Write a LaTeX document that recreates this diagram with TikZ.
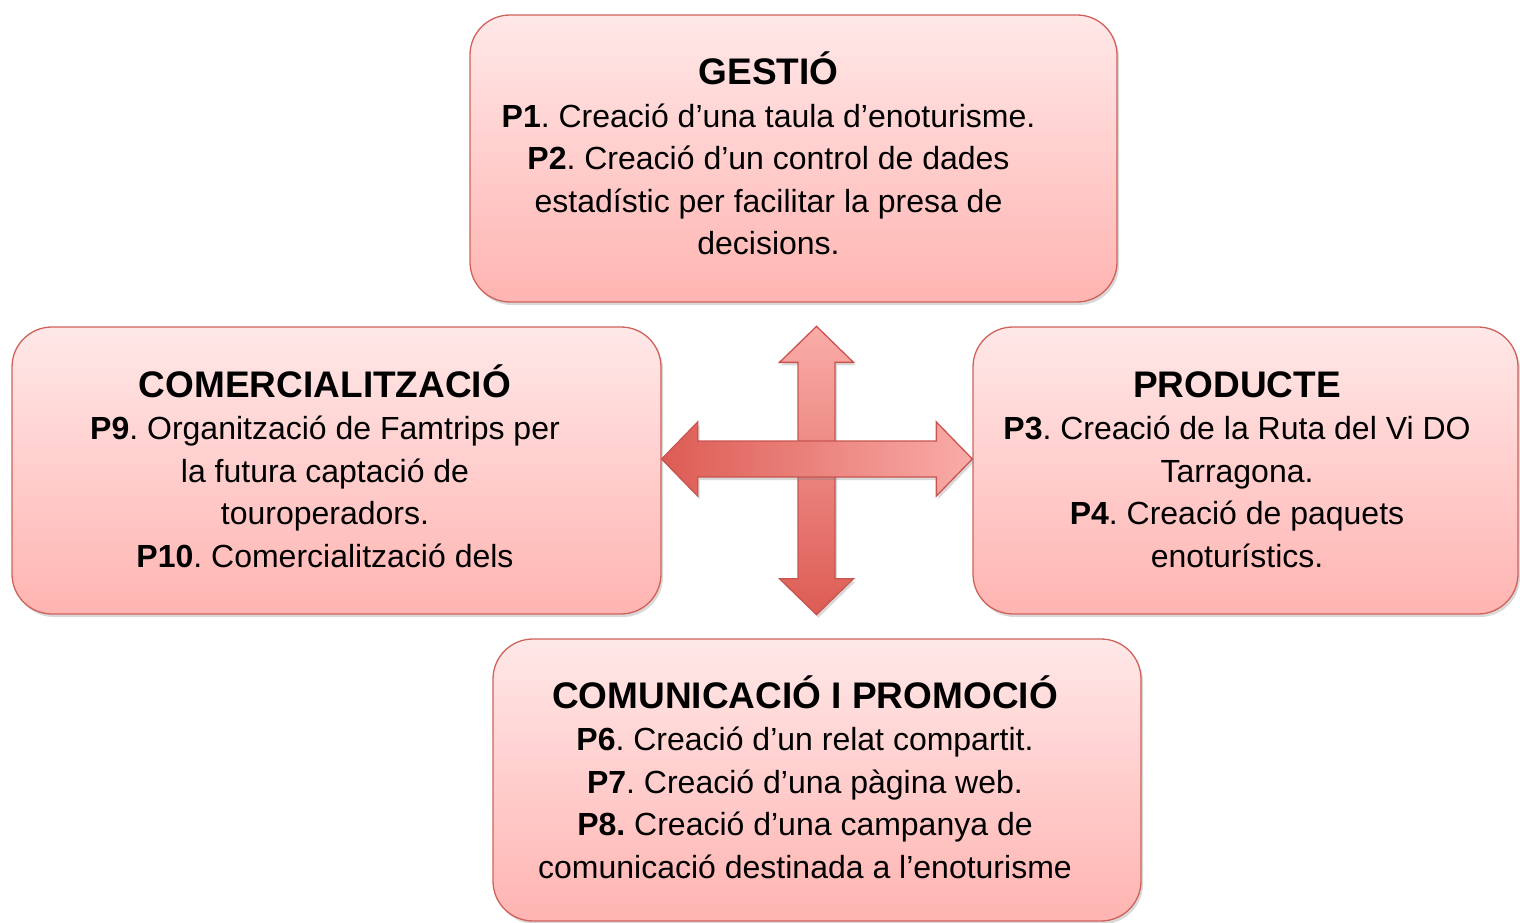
\documentclass[tikz,border=0pt]{standalone}
\usepackage{fontspec}
\setmainfont{Liberation Sans}
\frenchspacing
\usetikzlibrary{calc,shadows}
\definecolor{cardtop}{RGB}{255,232,232}
\definecolor{cardbot}{RGB}{255,180,177}
\definecolor{cardline}{RGB}{208,98,92}
\definecolor{arlight}{RGB}{250,172,168}
\definecolor{ardark}{RGB}{220,92,84}
\definecolor{arline}{RGB}{200,85,80}
\newcommand\cardhead[1]{{\fontsize{37}{42.6}\selectfont\bfseries #1}}
\tikzset{
  card/.style={draw=cardline,line width=1.3pt,rounded corners=40pt,
               top color=cardtop,bottom color=cardbot,inner sep=0pt,
               drop shadow={opacity=.3,shadow xshift=2pt,shadow yshift=-3pt}},
  txt/.style ={align=center,font=\fontsize{32}{42.6}\selectfont,inner sep=0pt},
  arr/.style ={draw=arline,line width=1.3pt,
               drop shadow={opacity=.3,shadow xshift=2pt,shadow yshift=-3pt}},
}

\begin{document}
\begin{tikzpicture}[x=1pt,y=-1pt]
  \useasboundingbox (0,0) rectangle (1520,923);
  % the four cards
  \node[card,minimum width=647,minimum height=287] (gestio)      at (793.5,158.5){};
  \node[card,minimum width=649,minimum height=287] (comercial)   at (336.5,470.5){};
  \node[card,minimum width=545,minimum height=287] (producte)    at (1245.5,470.5){};
  \node[card,minimum width=648,minimum height=282] (comunicacio) at (817,780){};
  \node[txt] (gestiotxt) at (768.5,153.5){\cardhead{GESTIÓ}\\
        \textbf{P1}. Creació d’una taula d’enoturisme.\\
        \textbf{P2}. Creació d’un control de dades\\
        estadístic per facilitar la presa de\\ decisions.};
  \node[txt] (comercialtxt) at (325,466){\cardhead{COMERCIALITZACIÓ}\\
        \textbf{P9}. Organització de Famtrips per\\ la futura captació de\\
        touroperadors.\\ \textbf{P10}. Comercialització dels};
  \node[txt] (productetxt) at (1237,469.5){\cardhead{PRODUCTE}\\
        \textbf{P3}. Creació de la Ruta del Vi DO\\ Tarragona.\\
        \textbf{P4}. Creació de paquets\\ enoturístics.};
  \node[txt] (comunicaciotxt) at (805,777){\cardhead{COMUNICACIÓ I PROMOCIÓ}\\
        \textbf{P6}. Creació d’un relat compartit.\\
        \textbf{P7}. Creació d’una pàgina web.\\
        \textbf{P8.} Creació d’una campanya de\\
        comunicació destinada a l’enoturisme};
  % the cross of double arrows
  \coordinate (hub) at (816.5,459);
  \coordinate (vt) at (hub |- comercial.north);
  \coordinate (vb) at (hub |- comercial.south);
  \coordinate (hl) at (comercial.east |- hub);
  \coordinate (hr) at (producte.west |- hub);
  \path[arr,top color=arlight,bottom color=ardark]
    (vt) -- ($(vt)+(37,36)$) -- ($(vt)+(18.5,36)$) -- ($(vb)+(18.5,-36)$)
    -- ($(vb)+(37,-36)$) -- (vb) -- ($(vb)+(-37,-36)$) -- ($(vb)+(-18.5,-36)$)
    -- ($(vt)+(-18.5,36)$) -- ($(vt)+(-37,36)$) -- cycle;
  \path[arr,left color=ardark,right color=arlight]
    (hl) -- ($(hl)+(36,-37)$) -- ($(hl)+(36,-18)$) -- ($(hr)+(-36,-18)$)
    -- ($(hr)+(-36,-37)$) -- (hr) -- ($(hr)+(-36,37)$) -- ($(hr)+(-36,18)$)
    -- ($(hl)+(36,18)$) -- ($(hl)+(36,37)$) -- cycle;
\end{tikzpicture}
\end{document}
